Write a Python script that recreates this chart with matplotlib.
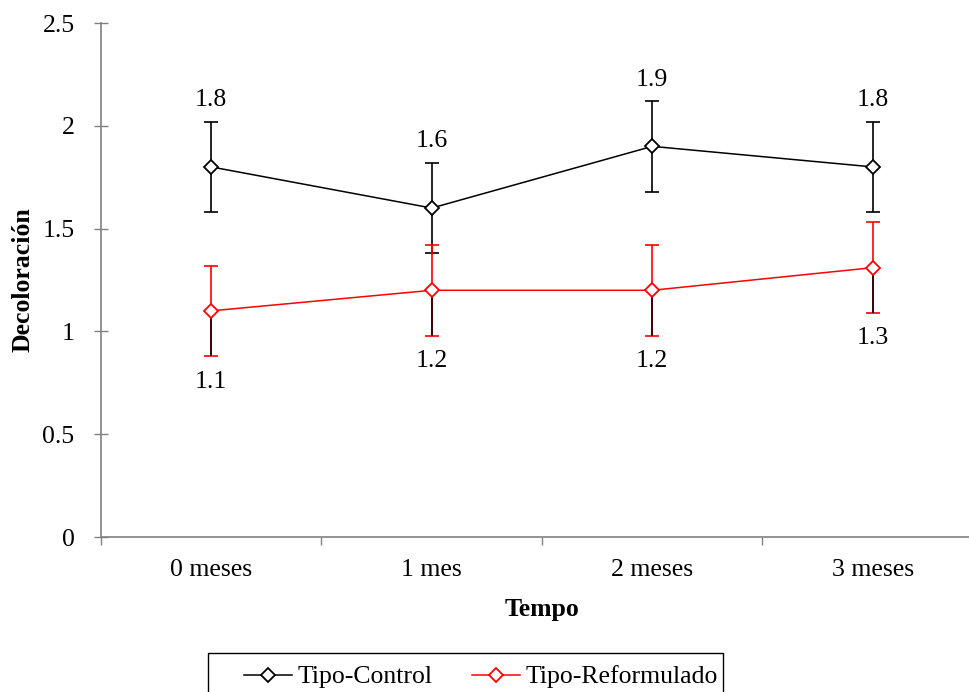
import matplotlib
matplotlib.use("Agg")
import matplotlib.pyplot as plt
from matplotlib.lines import Line2D
from matplotlib.patches import Rectangle

categories = ["0 meses", "1 mes", "2 meses", "3 meses"]
control = [1.8, 1.6, 1.9, 1.8]
control_err = [0.22, 0.22, 0.22, 0.22]
reform = [1.1, 1.2, 1.2, 1.31]
reform_err = [0.22, 0.22, 0.22, 0.22]
control_labels = ["1.8", "1.6", "1.9", "1.8"]
reform_labels = ["1.1", "1.2", "1.2", "1.3"]
yticks = [0, 0.5, 1, 1.5, 2, 2.5]
ytick_labels = ["0", "0.5", "1", "1.5", "2", "2.5"]

plt.rcParams["font.family"] = ["Liberation Serif", "DejaVu Serif"]
FS = 18.5
MS = 7.5

fig = plt.figure(figsize=(9.7, 6.92), dpi=100)
W, H = 970, 692
ax = fig.add_axes([101 / W, (H - 537) / H, 882 / W, (537 - 23) / H])

x = list(range(len(categories)))

# Control series
ax.errorbar(x, control, yerr=control_err, fmt="none", ecolor="black",
            elinewidth=1.2, capsize=5, capthick=1.2, zorder=2)
ax.plot(x, control, color="black", lw=1.1, marker="D", ms=MS,
        mfc="white", mec="black", mew=1.3, zorder=4)

# Reformulated series
ax.errorbar(x, reform, yerr=reform_err, fmt="none", ecolor="red",
            elinewidth=1.2, capsize=5, capthick=1.2, zorder=2)
# lower halves drawn dark as in reference
for xi, v, e in zip(x, reform, reform_err):
    ax.vlines(xi, v - e, v, colors="#1a0000", lw=1.2, zorder=3)
ax.plot(x, reform, color="red", lw=1.1, marker="D", ms=MS,
        mfc="white", mec="red", mew=1.3, zorder=4)

for xi, v, lab in zip(x, control, control_labels):
    ax.annotate(lab, (xi, v), xytext=(0, 48), textcoords="offset points",
                ha="center", va="center", fontsize=FS)
for xi, v, lab in zip(x, reform, reform_labels):
    ax.annotate(lab, (xi, v), xytext=(0, -51), textcoords="offset points",
                ha="center", va="center", fontsize=FS)

ax.set_xlim(-0.5, len(categories) - 0.5)
ax.set_ylim(0, 2.5)
ax.set_yticks(yticks)
ax.set_yticklabels(ytick_labels, fontsize=FS)
ax.set_xticks(x)
ax.set_xticklabels(categories, fontsize=FS)
ax.set_xticks([i - 0.5 for i in range(len(categories) + 1)], minor=True)
ax.tick_params(axis="x", which="major", length=0, pad=16)
ax.tick_params(axis="x", which="minor", length=6, color="#808080",
               direction="out", width=1)
ax.tick_params(axis="y", which="major", length=10, color="#808080",
               direction="inout", width=1, pad=14)

for s in ["top", "right"]:
    ax.spines[s].set_visible(False)
for s in ["left", "bottom"]:
    ax.spines[s].set_color("#808080")
    ax.spines[s].set_linewidth(1.2)

ax.set_ylabel("Decoloración", fontsize=FS, fontweight="bold", labelpad=6)
ax.set_xlabel("Tempo", fontsize=FS, fontweight="bold", labelpad=12)

handles = [
    Line2D([], [], color="black", lw=1.1, marker="D", ms=MS,
           mfc="white", mec="black", mew=1.3),
    Line2D([], [], color="red", lw=1.1, marker="D", ms=MS,
           mfc="white", mec="red", mew=1.3),
]
fig.patches.append(Rectangle((208 / W, 1 - 700 / H), (723 - 208) / W,
                             47 / H, transform=fig.transFigure,
                             facecolor="white", edgecolor="black", lw=1.0))
leg = fig.legend(handles, ["Tipo-Control", "Tipo-Reformulado"],
                 loc="center left", bbox_to_anchor=(244 / W, 1 - 677 / H),
                 ncol=2, fontsize=FS, frameon=False,
                 handlelength=1.87, handletextpad=0.2,
                 columnspacing=1.55, borderpad=0, borderaxespad=0)

fig.savefig("out.png", dpi=100)
